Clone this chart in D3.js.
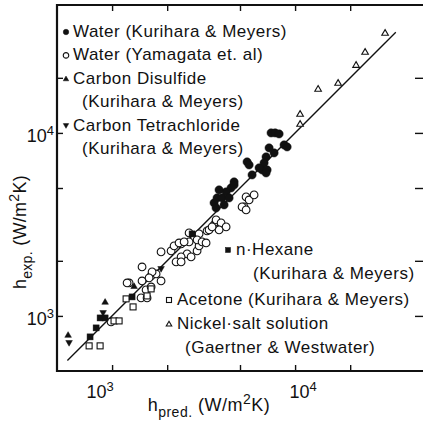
<!DOCTYPE html>
<html>
<head>
<meta charset="utf-8">
<script src="https://cdn.jsdelivr.net/npm/d3@7"></script>
<style>
  html, body { margin: 0; padding: 0; background: #fff; }
  svg { display: block; font-family: "Liberation Sans", Arial, sans-serif; }
  text { fill: #111; }
</style>
</head>
<body>
<div id="chart"></div>
<script>
// h_exp vs h_pred, log-log, W/m2K
const waterKM = [
  [7394,10000],[7777,10000],[8177,9875],[8708,8598],[9045,8385],[7678,7777],[7210,8279],
  [6942,7394],[6770,6857],[6602,6279],[6358,6439],[7031,6279],[6942,6045],[5467,6942],
  [5607,6685],[5821,5895],[4642,5398],[4469,5005],[4198,4760],[3843,4881],[3748,4413],
  [3991,4413],[4358,4413],[3609,4145],[4093,4043],[3701,3892],[4642,5198]
];
const waterYam = [
  [1458,1852],[1239,1514],[1458,1553],[1852,2237],[1634,1654],[1740,1696],[1852,1553],
  [2101,2266],[2182,2413],[2383,2475],[2635,2537],[2570,2182],[2383,2101],[2702,2101],
  [2914,2266],[2988,2413],[2635,2842],[2988,2806],[3304,2914],[2323,2505],[2475,2537],
  [2237,1973],[2383,1973],[2914,2602],[3103,2537],[3263,2505],[3389,2951],[3609,3143],
  [3701,3263],[1654,1740],[1593,1613],[1534,1387],[1634,1440],[1208,1514],[1440,1254],
  [1553,1254],[5398,4469],[5607,4303],[5264,3941],[5970,4584],[5133,3941],[5398,3795],
  [3701,3346],[3941,3222],[4198,3064],[3843,2951],[3519,3064],[987,927]
];
const cs2 = [[575,787],[916,1193],[1319,1455]];
const ccl4 = [[582,712],[893,1038],[1852,1806]];
const hexane = [[758,768],[818,860],[860,975],[916,975],[1286,1270],[2736,2806]];
const acetone = [[749,686],[860,686],[1025,939],[1092,939],[1193,1239],[1302,1120],[1634,1405],[1553,1286]];
const nickel = [[10650,12700],[10650,11200],[13360,17400],[17180,18760],[21540,23520],[24130,27710],[31030,35190]];
const fitLine = [570, 35500];

const xTicks = [1000, 2000, 5000, 10000, 20000];
const decadeLabels = [{v: 1000, p: '3', dx: -12}, {v: 10000, p: '4', dx: 8}];

const legendLeft = [
  {sym: 'fcircle', lines: ['Water (Kurihara & Meyers)']},
  {sym: 'ocircle', lines: ['Water (Yamagata et. al)']},
  {sym: 'ftri', lines: ['Carbon Disulfide', '(Kurihara & Meyers)']},
  {sym: 'fdtri', lines: ['Carbon Tetrachloride', '(Kurihara & Meyers)']}
];
const legendRight = [
  {sym: 'fsquare', lines: ['n\u00b7Hexane', '(Kurihara & Meyers)']},
  {sym: 'osquare', lines: ['Acetone (Kurihara & Meyers)']},
  {sym: 'otri', lines: ['Nickel\u00b7salt solution', '(Gaertner & Westwater)']}
];

const W = 423, H = 428;
const margin = {t: 5, r: 0, b: 57, l: 57};
const w = W - margin.l - margin.r;
const h = H - margin.t - margin.b;

const svg = d3.select('#chart').append('svg').attr('width', W).attr('height', H);
const g = svg.append('g').attr('transform', `translate(${margin.l},${margin.t})`);

const x = d3.scaleLog().domain([500, 50000]).range([0, w]);
const y = d3.scaleLog().domain([500, 50000]).range([h, 0]);

// ticks on all four sides, pointing inward
g.append('g').attr('transform', `translate(0,${h})`)
  .call(d3.axisBottom(x).tickValues(xTicks).tickSize(-6).tickSizeOuter(0).tickFormat(''));
g.append('g')
  .call(d3.axisTop(x).tickValues(xTicks).tickSize(-6).tickSizeOuter(0).tickFormat(''));
g.append('g')
  .call(d3.axisLeft(y).tickValues(xTicks).tickSize(-6).tickSizeOuter(0).tickFormat(''));
g.append('g').attr('transform', `translate(${w},0)`)
  .call(d3.axisRight(y).tickValues(xTicks).tickSize(-8).tickSizeOuter(0).tickFormat(''));
g.selectAll('.domain').remove();
g.selectAll('.tick line').attr('stroke', '#111').attr('stroke-width', 1.4);

// frame
g.append('path')
  .attr('d', `M${w},0H0V${h}H${w}`)
  .attr('fill', 'none').attr('stroke', '#111').attr('stroke-width', 2.2);

// decade labels
function powLabel(sel, base, p) {
  sel.append('tspan').text(base);
  sel.append('tspan').attr('dy', -7).attr('font-size', 13).text(p);
}
decadeLabels.forEach(d => {
  powLabel(g.append('text').attr('x', x(d.v) + d.dx).attr('y', h + 27)
    .attr('text-anchor', 'middle').attr('font-size', 18), '10', d.p);
  powLabel(g.append('text').attr('x', -3).attr('y', y(d.v) + 9)
    .attr('text-anchor', 'end').attr('font-size', 18), '10', d.p);
});

// axis titles
const xt = svg.append('text').attr('x', 209).attr('y', 411).attr('text-anchor', 'middle')
  .attr('font-size', 18).attr('letter-spacing', 0.5);
xt.append('tspan').text('h');
xt.append('tspan').attr('dy', 6).attr('font-size', 14).text('pred.');
xt.append('tspan').attr('dy', -6).text(' (W/m');
xt.append('tspan').attr('dy', -7).attr('font-size', 14).text('2');
xt.append('tspan').attr('dy', 7).text('K)');

const yt = svg.append('text').attr('transform', 'translate(26,232) rotate(-90)')
  .attr('text-anchor', 'middle').attr('font-size', 18).attr('letter-spacing', 0.3);
yt.append('tspan').text('h');
yt.append('tspan').attr('dy', 6).attr('font-size', 14).text('exp.');
yt.append('tspan').attr('dy', -6).text(' (W/m');
yt.append('tspan').attr('dy', -7).attr('font-size', 14).text('2');
yt.append('tspan').attr('dy', 7).text('K)');

// fit line y = x
g.append('line')
  .attr('x1', x(fitLine[0])).attr('y1', y(fitLine[0]))
  .attr('x2', x(fitLine[1])).attr('y2', y(fitLine[1]))
  .attr('stroke', '#111').attr('stroke-width', 1.4);

// marker drawing
function drawSym(sel, sym, s) {
  const filled = sym[0] === 'f';
  const kind = sym.slice(1);
  let shape;
  if (kind === 'circle') shape = sel.append('circle').attr('r', s * 0.55);
  else if (kind === 'square') shape = sel.append('rect').attr('x', -s / 2).attr('y', -s / 2).attr('width', s).attr('height', s);
  else if (kind === 'tri') shape = sel.append('path').attr('d', `M0,${-s * 0.55}L${s * 0.55},${s * 0.4}L${-s * 0.55},${s * 0.4}Z`);
  else shape = sel.append('path').attr('d', `M0,${s * 0.55}L${s * 0.55},${-s * 0.4}L${-s * 0.55},${-s * 0.4}Z`);
  shape.attr('fill', filled ? '#111' : '#fff').attr('stroke', '#111').attr('stroke-width', filled ? 0.5 : 1.1);
}

const series = [
  {data: waterYam, sym: 'ocircle', s: 7},
  {data: acetone, sym: 'osquare', s: 6},
  {data: nickel, sym: 'otri', s: 6},
  {data: waterKM, sym: 'fcircle', s: 7.5},
  {data: hexane, sym: 'fsquare', s: 6},
  {data: cs2, sym: 'ftri', s: 6},
  {data: ccl4, sym: 'fdtri', s: 6}
];
series.forEach(sr => {
  g.append('g').selectAll('g').data(sr.data).join('g')
    .attr('transform', d => `translate(${x(d[0])},${y(d[1])})`)
    .each(function() { drawSym(d3.select(this), sr.sym, sr.s); });
});

// legends
function legendBlock(items, mx, tx, indent, y0, step) {
  let row = 0;
  items.forEach(it => {
    const yy = y0 + row * step;
    drawSym(svg.append('g').attr('transform', `translate(${mx},${yy - 5})`), it.sym, 5);
    it.lines.forEach((ln, i) => {
      svg.append('text').attr('x', i === 0 ? tx : tx + indent).attr('y', yy + i * step)
        .attr('font-size', 17).attr('letter-spacing', 0.5).text(ln);
    });
    row += it.lines.length;
  });
}
legendBlock(legendLeft, 66, 73, 9, 37, 23.4);
legendBlock(legendRight.slice(0, 1), 228, 236, 17, 255, 24);
legendBlock(legendRight.slice(1), 169, 177, 8, 305, 24);
</script>
</body>
</html>
